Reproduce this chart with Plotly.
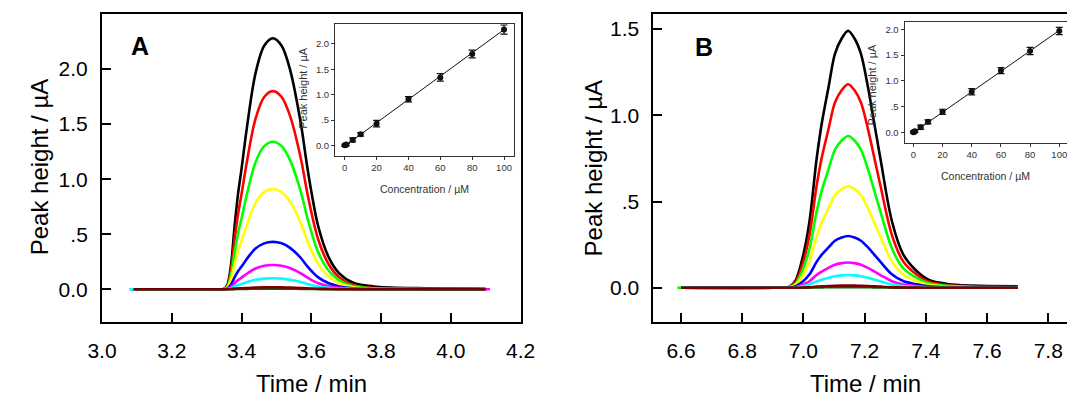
import plotly.graph_objects as go

W, H = 1082, 397

# ---------------- data: panel A chromatograms ----------------
time_a = [3.09, 3.30, 3.35, 3.36, 3.37, 3.38, 3.39, 3.40, 3.415, 3.44, 3.465, 3.49,
          3.515, 3.54, 3.57, 3.587, 3.60, 3.62, 3.65, 3.68, 3.72, 3.78, 3.90, 4.10]
start_a = [3.095, 3.095, 3.095, 3.095, 3.083, 3.095, 3.078, 3.095, 3.090]
end_a = [4.100, 4.100, 4.100, 4.100, 4.100, 4.112, 4.100, 4.100, 4.100]
black_a = [0, 0, 0.003, 0.046, 0.228, 0.57, 0.866, 1.094, 1.459, 1.961, 2.212, 2.28,
           2.212, 1.984, 1.505, 1.14, 0.889, 0.57, 0.29, 0.145, 0.06, 0.025, 0.01, 0.004]
red_a = [0, 0, 0.002, 0.036, 0.18, 0.45, 0.684, 0.864, 1.152, 1.548, 1.746, 1.80,
         1.746, 1.566, 1.188, 0.90, 0.702, 0.45, 0.225, 0.108, 0.036, 0.011, 0.004, 0.0]
green_a = [0, 0, 0.002, 0.027, 0.134, 0.335, 0.509, 0.643, 0.858, 1.152, 1.30, 1.34,
           1.30, 1.166, 0.884, 0.67, 0.523, 0.335, 0.168, 0.08, 0.027, 0.008, 0.003, 0.0]
yellow_a = [0, 0, 0.001, 0.018, 0.091, 0.228, 0.346, 0.437, 0.582, 0.783, 0.883, 0.91,
            0.883, 0.792, 0.601, 0.455, 0.355, 0.228, 0.114, 0.055, 0.018, 0.005, 0.002, 0.0]
blue_a = [0, 0, 0.001, 0.009, 0.043, 0.108, 0.163, 0.206, 0.275, 0.37, 0.417, 0.43,
          0.417, 0.374, 0.284, 0.215, 0.168, 0.108, 0.054, 0.026, 0.009, 0.003, 0.001, 0.0]
magenta_a = [0, 0, 0, 0.004, 0.022, 0.055, 0.084, 0.106, 0.141, 0.189, 0.213, 0.22,
             0.213, 0.191, 0.145, 0.11, 0.086, 0.055, 0.028, 0.013, 0.004, 0.001, 0.0, 0.0]
cyan_a = [0, 0, 0, 0.002, 0.01, 0.025, 0.038, 0.048, 0.064, 0.086, 0.097, 0.10,
          0.097, 0.087, 0.066, 0.05, 0.039, 0.025, 0.013, 0.006, 0.002, 0.001, 0.0, 0.0]
brown_a = [0, 0, 0, 0.0004, 0.0018, 0.0045, 0.0068, 0.0086, 0.0115, 0.0155, 0.0175, 0.018,
           0.0175, 0.0157, 0.0119, 0.009, 0.007, 0.0045, 0.0023, 0.0011, 0.0004, 0.0001, 0.0, 0.0]
dkgreen_a = [0, 0, 0, 0.0001, 0.0006, 0.0015, 0.0023, 0.0029, 0.0038, 0.0052, 0.0058, 0.006,
             0.0058, 0.0052, 0.004, 0.003, 0.0023, 0.0015, 0.0008, 0.0004, 0.0001, 0.0, 0.0, 0.0]

# ---------------- data: panel B chromatograms ----------------
time_b = [6.60, 6.90, 6.955, 6.975, 7.00, 7.02, 7.043, 7.06, 7.082, 7.103, 7.125, 7.146,
          7.167, 7.188, 7.211, 7.23, 7.252, 7.289, 7.326, 7.37, 7.41, 7.47, 7.55, 7.70]
start_b = [6.600, 6.600, 6.588, 6.600, 6.600, 6.600, 6.600, 6.600, 6.600]
end_b = [7.700, 7.700, 7.700, 7.700, 7.700, 7.700, 7.700, 7.700, 7.700]
black_b = [0, 0, 0.007, 0.045, 0.194, 0.387, 0.745, 0.954, 1.162, 1.356, 1.445, 1.49,
           1.445, 1.356, 1.162, 0.969, 0.745, 0.387, 0.194, 0.097, 0.045, 0.022, 0.013, 0.009]
red_b = [0, 0, 0.006, 0.035, 0.153, 0.307, 0.59, 0.755, 0.92, 1.074, 1.145, 1.18,
         1.145, 1.074, 0.92, 0.767, 0.59, 0.307, 0.153, 0.077, 0.035, 0.015, 0.008, 0.005]
green_b = [0, 0, 0.004, 0.026, 0.114, 0.229, 0.44, 0.563, 0.686, 0.80, 0.854, 0.88,
           0.854, 0.80, 0.686, 0.572, 0.44, 0.229, 0.114, 0.057, 0.026, 0.011, 0.005, 0.003]
yellow_b = [0, 0, 0.003, 0.018, 0.077, 0.153, 0.295, 0.378, 0.46, 0.537, 0.572, 0.59,
            0.572, 0.537, 0.46, 0.384, 0.295, 0.153, 0.077, 0.038, 0.018, 0.007, 0.003, 0.002]
blue_b = [0, 0, 0.0015, 0.009, 0.039, 0.078, 0.15, 0.192, 0.234, 0.273, 0.291, 0.30,
          0.291, 0.273, 0.234, 0.195, 0.15, 0.078, 0.039, 0.02, 0.009, 0.004, 0.002, 0.001]
magenta_b = [0, 0, 0.0007, 0.0044, 0.019, 0.038, 0.074, 0.094, 0.115, 0.134, 0.143, 0.147,
             0.143, 0.134, 0.115, 0.096, 0.074, 0.038, 0.019, 0.0096, 0.0044, 0.0018, 0.0009, 0.0006]
cyan_b = [0, 0, 0.0004, 0.0022, 0.0096, 0.019, 0.037, 0.047, 0.058, 0.067, 0.072, 0.074,
          0.072, 0.067, 0.058, 0.048, 0.037, 0.019, 0.0096, 0.0048, 0.0022, 0.0009, 0.0004, 0.0003]
brown_b = [0, 0, 0.0001, 0.0004, 0.0017, 0.0034, 0.0065, 0.0083, 0.0101, 0.0118, 0.0126, 0.013,
           0.0126, 0.0118, 0.0101, 0.0085, 0.0065, 0.0034, 0.0017, 0.0008, 0.0004, 0.0002, 0.0001, 0.0]
dkgreen_b = [0, 0, 0, 0.0001, 0.0005, 0.001, 0.002, 0.0026, 0.0031, 0.0036, 0.0039, 0.004,
             0.0039, 0.0036, 0.0031, 0.0026, 0.002, 0.001, 0.0005, 0.0003, 0.0001, 0.0, 0.0, 0.0]

curve_colors = ["#000000", "#FF0000", "#00FF00", "#FFFF00", "#0000FF",
                "#FF00FF", "#00FFFF", "#006400", "#7A0000"]

# ---------------- data: calibration insets ----------------
conc = [0, 0.5, 1, 5, 10, 20, 40, 60, 80, 100]
peak_a = [0.005, 0.01, 0.02, 0.11, 0.22, 0.43, 0.91, 1.34, 1.80, 2.28]
err_a = [0.02, 0.02, 0.02, 0.04, 0.035, 0.065, 0.05, 0.075, 0.075, 0.09]
peak_b = [0.005, 0.01, 0.02, 0.10, 0.205, 0.40, 0.79, 1.20, 1.58, 1.97]
err_b = [0.02, 0.02, 0.02, 0.04, 0.04, 0.05, 0.06, 0.06, 0.07, 0.07]
fit_x = [0, 100]
fit_a = [-0.01, 2.28]
fit_b = [-0.005, 1.98]

main_yticks_a = [0, 0.5, 1.0, 1.5, 2.0]
main_yticks_b = [0, 0.5, 1.0, 1.5]
ytick_text = {0: "0.0", 0.5: ".5", 1.0: "1.0", 1.5: "1.5", 2.0: "2.0"}
xticks_a = [3.0, 3.2, 3.4, 3.6, 3.8, 4.0, 4.2]
xticks_b = [6.6, 6.8, 7.0, 7.2, 7.4, 7.6, 7.8]
inset_xticks = [0, 20, 40, 60, 80, 100]
inset_yticks = [0, 0.5, 1.0, 1.5, 2.0]

FONT = "Arial, Liberation Sans, sans-serif"

fig = go.Figure()

curves_a = [black_a, red_a, green_a, yellow_a, blue_a, magenta_a, cyan_a, dkgreen_a, brown_a]
curves_b = [black_b, red_b, green_b, yellow_b, blue_b, magenta_b, cyan_b, dkgreen_b, brown_b]

for i, (ys, col) in enumerate(zip(curves_a, curve_colors)):
    xs = [start_a[i]] + time_a[1:-1] + [end_a[i]]
    fig.add_trace(go.Scatter(x=xs, y=ys, mode="lines",
                             line=dict(color=col, width=2.6, shape="spline", smoothing=0.9),
                             xaxis="x", yaxis="y", showlegend=False, hoverinfo="skip"))
for i, (ys, col) in enumerate(zip(curves_b, curve_colors)):
    xs = [start_b[i]] + time_b[1:-1] + [end_b[i]]
    fig.add_trace(go.Scatter(x=xs, y=ys, mode="lines",
                             line=dict(color=col, width=2.6, shape="spline", smoothing=0.9),
                             xaxis="x3", yaxis="y3", showlegend=False, hoverinfo="skip"))

# insets
fig.add_trace(go.Scatter(x=fit_x, y=fit_a, mode="lines", line=dict(color="#111", width=1),
                         xaxis="x2", yaxis="y2", showlegend=False))
fig.add_trace(go.Scatter(x=conc, y=peak_a, mode="markers",
                         marker=dict(color="#111", size=6),
                         error_y=dict(type="data", array=err_a, color="#111", thickness=1.2, width=3.5),
                         xaxis="x2", yaxis="y2", showlegend=False))
fig.add_trace(go.Scatter(x=fit_x, y=fit_b, mode="lines", line=dict(color="#111", width=1),
                         xaxis="x4", yaxis="y4", showlegend=False))
fig.add_trace(go.Scatter(x=conc, y=peak_b, mode="markers",
                         marker=dict(color="#111", size=6),
                         error_y=dict(type="data", array=err_b, color="#111", thickness=1.2, width=3.5),
                         xaxis="x4", yaxis="y4", showlegend=False))


def px(x):
    return x / W


def py(y):
    return 1 - y / H


main_ax = dict(showline=True, linewidth=2, linecolor="black", ticks="inside", ticklen=9,
               tickwidth=2, tickcolor="black", showgrid=False, zeroline=False,
               tickfont=dict(family=FONT, size=21, color="black"))
inset_ax = dict(showline=True, linewidth=1.2, linecolor="#333", ticks="outside", ticklen=3,
                tickwidth=1, tickcolor="#333", showgrid=False, zeroline=False,
                tickfont=dict(family=FONT, size=9.5, color="#333"))

dom_y_main = [py(322.3), py(14)]

fig.update_layout(
    width=W, height=H, margin=dict(l=0, r=0, t=0, b=0),
    paper_bgcolor="white", plot_bgcolor="rgba(0,0,0,0)",
    xaxis=dict(**main_ax, domain=[px(89.5), px(520)], range=[3.0, 4.2], mirror=True,
               tickvals=xticks_a, ticktext=[f"{v:.1f}" for v in xticks_a], anchor="y",
               ticklabelstandoff=8),
    yaxis=dict(**main_ax, domain=dom_y_main, range=[-0.3, 2.5], mirror=True,
               tickvals=main_yticks_a, ticktext=[ytick_text[v] for v in main_yticks_a], anchor="x",
               ticklabelstandoff=8),
    xaxis3=dict(**main_ax, domain=[px(656.7), 1.0], range=[6.5101, 7.8613], mirror=True,
                tickvals=xticks_b, ticktext=[f"{v:.1f}" for v in xticks_b], anchor="y3",
                ticklabelstandoff=8),
    yaxis3=dict(**main_ax, domain=dom_y_main, range=[-0.2, 1.587], mirror=False,
                tickvals=main_yticks_b, ticktext=[ytick_text[v] for v in main_yticks_b], anchor="x3",
                ticklabelstandoff=8),
    xaxis2=dict(**inset_ax, domain=[px(329.3), px(513.3)], range=[-6, 106.3], mirror=True,
                tickvals=inset_xticks, anchor="y2"),
    yaxis2=dict(**inset_ax, domain=[py(155.7), py(24)], range=[-0.2, 2.39], mirror=True,
                tickvals=inset_yticks, ticktext=[ytick_text[v] for v in inset_yticks], anchor="x2"),
    xaxis4=dict(**inset_ax, domain=[px(915), 1.0], range=[-6, 105.3], mirror=True,
                tickvals=inset_xticks, anchor="y4"),
    yaxis4=dict(**inset_ax, domain=[py(142.7), py(21.7)], range=[-0.2, 2.15], mirror=False,
                tickvals=inset_yticks, ticktext=[ytick_text[v] for v in inset_yticks], anchor="x4"),
)


def ann(text, x, y, size, rot=0, bold=False, color="black"):
    fig.add_annotation(text=f"<b>{text}</b>" if bold else text, xref="paper", yref="paper",
                       x=px(x), y=py(y), xanchor="center", yanchor="middle", showarrow=False,
                       textangle=rot, font=dict(family=FONT, size=size, color=color))


ann("Time / min", 305, 383, 24)
ann("Time / min", 875, 383, 24)
ann("Peak height / µA", 25, 167, 24, rot=-90)
ann("Peak height / µA", 596, 168, 24, rot=-90)
ann("A", 129, 46, 25, bold=True)
ann("B", 709, 47, 25, bold=True)
ann("Concentration / µM", 421, 189, 10.5, color="#333")
ann("Peak height / µA", 296, 88, 11, rot=-90, color="#333")
ann("Concentration / µM", 998, 176, 10.5, color="#333")
ann("Peak height / µA", 881, 85, 11, rot=-90, color="#333")

fig.write_html("out.html")
